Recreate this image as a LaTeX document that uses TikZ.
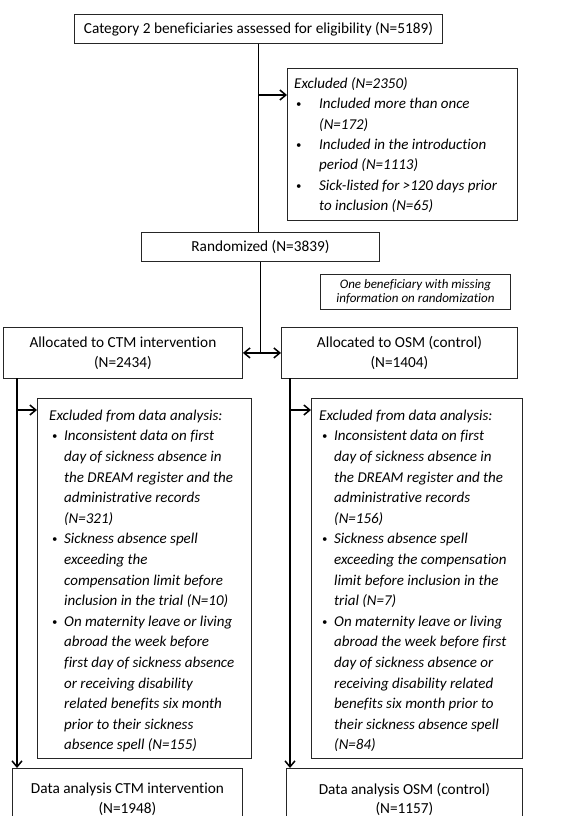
\documentclass[tikz,border=0pt]{standalone}
\usepackage{fontspec}
\setmainfont{Carlito}[Ligatures=NoCommon]
\usetikzlibrary{arrows.meta,calc}
\newcommand\hd[1]{\multicolumn{2}{@{}l@{}}{#1}}
\newcommand\bdot{\raisebox{0.5ex}{\scalebox{0.7}{\raisebox{-0.5ex}{\textbullet}}}}
\newcommand\BT{\makebox[25pt][l]{\hspace*{2pt}\bdot}}
\newcommand\BL{\makebox[15pt][l]{\hspace*{3pt}\bdot}}
\begin{document}
\begin{tikzpicture}[x=1pt,y=-1pt,
  box/.style={draw=black!85, line width=0.9pt, inner sep=0pt, anchor=north west, align=center},
  conn/.style={line width=1.5pt, black},
  arr/.style={conn, -{Straight Barb[length=6pt,width=10pt]}},
  darr/.style={conn, {Straight Barb[length=6pt,width=10pt]}-{Straight Barb[length=6pt,width=10pt]}},
  txt/.style={inner sep=0pt, anchor=north west, align=left},
  font=\fontsize{15.3}{20.4}\selectfont]
\useasboundingbox (0,0) rectangle (580,816);
\clip (0,0) rectangle (580,816);
\fill[white] (0,0) rectangle (580,816);

% boxes
\node[box, minimum width=368pt, minimum height=29pt] (top) at (74,14) {Category 2 beneficiaries assessed for eligibility (N=5189)};
\node[box, minimum width=230pt, minimum height=152pt] (excl) at (287,68) {};
\node[box, minimum width=238pt, minimum height=29pt] (rand) at (141,232) {Randomized (N=3839)};
\node[box, minimum width=190pt, minimum height=35pt, font=\fontsize{13}{14.5}\selectfont\itshape] (note) at (320,274) {One beneficiary with missing\\information on randomization};
\node[box, minimum width=239pt, minimum height=51pt, font=\fontsize{15.3}{20}\selectfont] (ctm) at (3,327) {Allocated to CTM intervention\\(N=2434)};
\node[box, minimum width=236pt, minimum height=51pt, font=\fontsize{15.3}{20}\selectfont] (osm) at (281,327) {Allocated to OSM (control)\\(N=1404)};
\node[box, minimum width=214pt, minimum height=360pt] (lex) at (37,398) {};
\node[box, minimum width=211pt, minimum height=360pt] (rex) at (311,398) {};
\node[box, minimum width=230pt, minimum height=62pt, font=\fontsize{15.3}{19.5}\selectfont] (lda) at (12,768) {Data analysis CTM intervention\\(N=1948)};
\node[box, minimum width=236pt, minimum height=62pt, font=\fontsize{15.3}{19.5}\selectfont] (rda) at (286,768) {Data analysis OSM (control)\\(N=1157)};

% texts of exclusion boxes
\node[txt, font=\fontsize{15}{20.4}\selectfont\itshape] (exclt) at (294,73.8) {\begin{tabular}{@{}l@{}l@{}}
\hd{Excluded (N=2350)}\\
\BT & Included more than once\\
 & (N=172)\\
\BT & Included in the introduction\\
 & period (N=1113)\\
\BT & Sick-listed for >120 days prior\\
 & to inclusion (N=65)
\end{tabular}};

\node[txt, font=\fontsize{15}{20.6}\selectfont\itshape] (lext) at (49,405.6) {\begin{tabular}{@{}l@{}l@{}}
\hd{Excluded from data analysis:}\\
\BL & Inconsistent data on first\\
 & day of sickness absence in\\
 & the DREAM register and the\\
 & administrative records\\
 & (N=321)\\
\BL & Sickness absence spell\\
 & exceeding the\\
 & compensation limit before\\
 & inclusion in the trial (N=10)\\
\BL & On maternity leave or living\\
 & abroad the week before\\
 & first day of sickness absence\\
 & or receiving disability\\
 & related benefits six month\\
 & prior to their sickness\\
 & absence spell (N=155)
\end{tabular}};

\node[txt, font=\fontsize{15}{20.6}\selectfont\itshape] (rext) at (319,405.6) {\begin{tabular}{@{}l@{}l@{}}
\hd{Excluded from data analysis:}\\
\BL & Inconsistent data on first\\
 & day of sickness absence in\\
 & the DREAM register and the\\
 & administrative records\\
 & (N=156)\\
\BL & Sickness absence spell\\
 & exceeding the compensation\\
 & limit before inclusion in the\\
 & trial (N=7)\\
\BL & On maternity leave or living\\
 & abroad the week before first\\
 & day of sickness absence or\\
 & receiving disability related\\
 & benefits six month prior to\\
 & their sickness absence spell\\
 & (N=84)
\end{tabular}};

% connectors
\draw[conn] (top.south) -- (top.south |- rand.north);
\coordinate (j1) at (258,95);
\draw[arr] (j1) -- (j1 -| excl.west);
\draw[conn] (rand.south) -- (rand.south |- ctm.east);
\draw[darr] (ctm.east) -- (osm.west);

\coordinate (l0) at (17,378);
\coordinate (l1) at (17,410);
\draw[arr] (l0) -- (l0 |- lda.north);
\draw[arr] (l1) -- (l1 -| lex.west);

\coordinate (r0) at (290,378);
\coordinate (r1) at (290,410);
\draw[arr] (r0) -- (r0 |- rda.north);
\draw[arr] (r1) -- (r1 -| rex.west);
\end{tikzpicture}
\end{document}
